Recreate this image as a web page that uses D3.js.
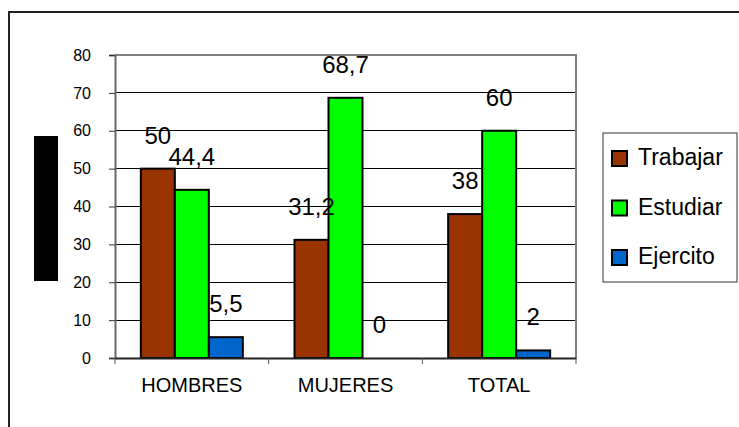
<!DOCTYPE html>
<html>
<head>
<meta charset="utf-8">
<script src="https://cdn.jsdelivr.net/npm/d3@7"></script>
<style>
  body { margin: 0; background: #fff; }
  svg { display: block; font-family: "Liberation Sans", Arial, sans-serif; }
</style>
</head>
<body>
<div id="chart"></div>
<script>
'use strict';

// data
const categories = ["HOMBRES", "MUJERES", "TOTAL"];
const seriesNames = ["Trabajar", "Estudiar", "Ejercito"];
const trabajar = [50, 31.2, 38];
const estudiar = [44.4, 68.7, 60];
const ejercito = [5.5, 0, 2];
const yTicks = [0, 10, 20, 30, 40, 50, 60, 70, 80];

const colors = ["#993300", "#00ff00", "#0066cc"];
const series = [trabajar, estudiar, ejercito];

const W = 739, H = 427;
const plot = { left: 115, right: 576, top: 55, bottom: 358 };

const svg = d3.select("#chart").append("svg")
  .attr("width", W)
  .attr("height", H);

// outer frame (only top and left edges visible)
svg.append("path")
  .attr("d", "M9," + H + "V12H" + W)
  .attr("fill", "none")
  .attr("stroke", "#222")
  .attr("stroke-width", 2);

// black block where the y title would be
svg.append("rect")
  .attr("x", 34).attr("y", 136)
  .attr("width", 24).attr("height", 145)
  .attr("fill", "#000");

const x0 = d3.scaleBand()
  .domain(categories)
  .range([plot.left, plot.right])
  .paddingInner(0)
  .paddingOuter(0);

const x1 = d3.scaleBand()
  .domain(seriesNames)
  .range([0, x0.bandwidth()])
  .paddingOuter(0.76)
  .paddingInner(0);

const y = d3.scaleLinear()
  .domain([0, 80])
  .range([plot.bottom, plot.top]);

// gridlines
svg.append("g")
  .selectAll("line")
  .data(yTicks.filter(t => t > 0 && t < 80))
  .enter()
  .append("line")
  .attr("x1", plot.left).attr("x2", plot.right)
  .attr("y1", d => y(d)).attr("y2", d => y(d))
  .attr("stroke", "#000")
  .attr("stroke-width", 1)
  .attr("shape-rendering", "crispEdges");

// plot area border top/right
svg.append("path")
  .attr("d", "M" + plot.left + "," + y(80) + "H" + plot.right + "V" + plot.bottom)
  .attr("fill", "none")
  .attr("stroke", "#808080")
  .attr("stroke-width", 2);

// y axis
const yAxis = svg.append("g")
  .attr("transform", "translate(" + plot.left + ",0)")
  .call(d3.axisLeft(y).tickValues(yTicks).tickSize(6).tickPadding(18).tickFormat(d3.format("d")));
yAxis.select(".domain").attr("stroke", "#666").attr("stroke-width", 2);
yAxis.selectAll(".tick line").attr("stroke", "#333");
yAxis.selectAll("text")
  .attr("font-size", 16)
  .attr("font-family", "Liberation Sans, Arial, sans-serif")
  .attr("fill", "#000");

// bars
const groups = svg.append("g")
  .selectAll("g")
  .data(categories)
  .enter()
  .append("g")
  .attr("transform", d => "translate(" + x0(d) + ",0)");

groups.selectAll("rect")
  .data((d, i) => seriesNames.map((s, j) => ({ s: s, v: series[j][i], j: j })))
  .enter()
  .append("rect")
  .filter(d => d.v > 0)
  .attr("x", d => x1(d.s))
  .attr("y", d => y(d.v))
  .attr("width", x1.bandwidth())
  .attr("height", d => y(0) - y(d.v))
  .attr("fill", d => colors[d.j])
  .attr("stroke", "#000")
  .attr("stroke-width", 2);

// x axis
const xAxis = svg.append("g")
  .attr("transform", "translate(0," + plot.bottom + ")")
  .call(d3.axisBottom(x0).tickSize(0).tickPadding(20));
xAxis.select(".domain").attr("stroke", "#222").attr("stroke-width", 2);
xAxis.selectAll("text")
  .attr("font-size", 20)
  .attr("font-family", "Liberation Sans, Arial, sans-serif")
  .attr("fill", "#000");

// category separator ticks
xAxis.selectAll(".sep")
  .data(categories.concat(["end"]))
  .enter()
  .append("line")
  .attr("class", "sep")
  .attr("x1", (d, i) => i < categories.length ? x0(d) : plot.right)
  .attr("x2", (d, i) => i < categories.length ? x0(d) : plot.right)
  .attr("y1", 0).attr("y2", 6)
  .attr("stroke", "#555");

// value labels
groups.selectAll("text.val")
  .data((d, i) => seriesNames.map((s, j) => ({ s: s, v: series[j][i] })))
  .enter()
  .append("text")
  .attr("class", "val")
  .attr("x", d => x1(d.s) + x1.bandwidth() / 2)
  .attr("y", d => y(d.v) - 25)
  .attr("text-anchor", "middle")
  .attr("font-size", 24)
  .attr("fill", "#000")
  .text(d => String(d.v).replace(".", ","));

// legend
const legend = svg.append("g").attr("transform", "translate(603,133)");
legend.append("rect")
  .attr("width", 134).attr("height", 149)
  .attr("fill", "#fff")
  .attr("stroke", "#333")
  .attr("stroke-width", 1);

const items = legend.selectAll("g.item")
  .data(seriesNames)
  .enter()
  .append("g")
  .attr("class", "item")
  .attr("transform", (d, i) => "translate(0," + (18 + i * 49.5) + ")");

items.append("rect")
  .attr("x", 9).attr("width", 15).attr("height", 15)
  .attr("fill", (d, i) => colors[i])
  .attr("stroke", "#000")
  .attr("stroke-width", 2);

items.append("text")
  .attr("x", 35)
  .attr("y", 14)
  .attr("font-size", 23)
  .attr("fill", "#000")
  .text(d => d);
</script>
</body>
</html>
